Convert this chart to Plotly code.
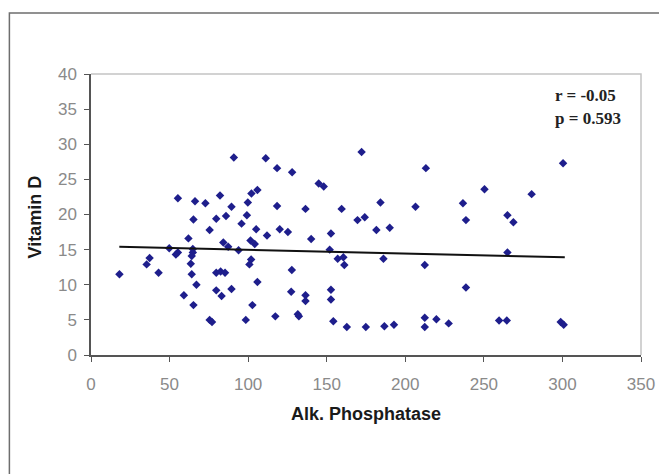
import plotly.graph_objects as go

alk_phosphatase = [
    90.9, 111.2, 118.4, 55.3, 66.2, 72.8, 82.1, 89.4, 99.8, 102.1, 105.9, 118.4,
    65.2, 79.7, 85.9, 99.2, 95.8, 105.1, 112.0, 75.5, 62.0, 101.5, 104.2, 84.2,
    87.3, 93.9, 49.8, 55.3, 54.0, 64.8, 64.8, 64.1, 37.3, 35.4, 63.5, 101.9,
    100.8, 18.1, 43.0, 64.1, 79.7, 82.5, 85.3, 105.9, 67.1, 79.7, 89.4, 59.1,
    83.1, 65.2, 102.7, 75.5, 77.0, 98.5, 117.3, 128.0, 172.2, 213.1, 144.9, 148.1,
    136.5, 159.5, 184.2, 206.5, 236.7, 238.6, 169.6, 174.2, 181.6, 190.1, 120.1, 125.3,
    140.1, 152.7, 151.9, 157.0, 160.6, 161.2, 186.1, 212.4, 127.8, 127.4, 136.5, 136.5,
    152.7, 152.7, 131.6, 132.3, 154.2, 162.8, 174.9, 186.7, 192.8, 212.4, 212.4, 219.8,
    227.6, 238.6, 300.4, 250.4, 280.4, 265.0, 268.8, 265.0, 259.7, 264.6, 298.9, 300.8,
]
vitamin_d = [
    28.1, 28.0, 26.6, 22.3, 21.9, 21.6, 22.7, 21.1, 21.7, 23.0, 23.5, 21.2,
    19.3, 19.4, 19.8, 19.9, 18.7, 17.9, 17.0, 17.8, 16.6, 16.3, 15.8, 16.0,
    15.4, 14.9, 15.2, 14.6, 14.3, 15.1, 14.6, 14.1, 13.8, 12.9, 13.0, 13.6,
    12.9, 11.5, 11.7, 11.5, 11.7, 11.9, 11.7, 10.4, 10.0, 9.2, 9.4, 8.5,
    8.4, 7.1, 7.1, 5.0, 4.7, 5.0, 5.5, 26.0, 28.9, 26.6, 24.4, 24.0,
    20.8, 20.8, 21.7, 21.1, 21.6, 19.2, 19.2, 19.6, 17.8, 18.1, 17.9, 17.5,
    16.5, 17.3, 15.0, 13.7, 13.9, 12.8, 13.7, 12.8, 12.1, 9.0, 8.5, 7.7,
    9.3, 7.9, 5.8, 5.5, 4.8, 4.0, 4.0, 4.1, 4.3, 5.3, 4.0, 5.1,
    4.5, 9.6, 27.3, 23.6, 22.9, 19.9, 18.9, 14.6, 4.9, 4.9, 4.7, 4.3,
]
trend_x = [18, 301.5]
trend_y = [15.4, 13.9]
x_ticks = [0, 50, 100, 150, 200, 250, 300, 350]
y_ticks = [0, 5, 10, 15, 20, 25, 30, 35, 40]
stats_lines = ["r = -0.05", "p = 0.593"]
x_title = "Alk. Phosphatase"
y_title = "Vitamin D"

fig = go.Figure()
fig.add_trace(go.Scatter(
    x=alk_phosphatase, y=vitamin_d, mode="markers",
    marker=dict(symbol="diamond", size=6.5, color="#1e1e8c", line=dict(width=0)),
    showlegend=False, hoverinfo="x+y",
))
fig.add_trace(go.Scatter(
    x=trend_x, y=trend_y, mode="lines",
    line=dict(color="#111111", width=2), showlegend=False,
))

# page body has an 8px margin, so work in reference pixels minus 8
O = 8
W, H = 667 - O, 474 - O
L, T = 91 - O, 74 - O
R = W - (645 - O)
B = H - (355 - O)
pw, ph = W - L - R, H - T - B

def px(x):
    return (x - O - L) / pw

def py(y):
    return (H - B - (y - O)) / ph

# outer frame (cropped on right and bottom)
fig.add_shape(type="path", xref="paper", yref="paper",
              path=f"M {px(8.8)} {py(490)} L {px(8.8)} {py(13)} L {px(690)} {py(13)}",
              line=dict(color="#6e6e6e", width=1.5))
# plot area top/right border
fig.add_shape(type="path", xref="paper", yref="paper",
              path="M 0 1 L 1 1 L 1 0",
              line=dict(color="#c4c4c4", width=1.5))

for txt, yy in zip(stats_lines, [95, 118]):
    fig.add_annotation(xref="paper", yref="paper", x=px(556), y=py(yy),
                       text=f"<b>{txt}</b>", showarrow=False,
                       xanchor="left", yanchor="middle",
                       font=dict(family="Liberation Serif", size=17, color="#222222"))

fig.add_annotation(xref="paper", yref="paper", x=px(368), y=py(414),
                   text=f"<b>{x_title}</b>", showarrow=False,
                   xanchor="center", yanchor="middle",
                   font=dict(family="Liberation Sans", size=18, color="#1a1a1a"))
fig.add_annotation(xref="paper", yref="paper", x=px(35), y=py(217),
                   text=f"<b>{y_title}</b>", showarrow=False, textangle=-90,
                   xanchor="center", yanchor="middle",
                   font=dict(family="Liberation Sans", size=18, color="#1a1a1a"))

axis_common = dict(showgrid=False, zeroline=False, showline=True,
                   linecolor="#555555", linewidth=1.5, ticks="outside",
                   ticklen=5, tickcolor="#555555", tickwidth=1,
                   tickfont=dict(family="Liberation Sans", size=17, color="#8a8a8a"))

fig.update_xaxes(range=[0, 350], tickvals=x_ticks, ticklabelstandoff=8, **axis_common)
fig.update_yaxes(range=[0, 40], tickvals=y_ticks, ticklabelstandoff=4, **axis_common)

fig.update_layout(width=W, height=H, margin=dict(l=L, r=R, t=T, b=B),
                  paper_bgcolor="white", plot_bgcolor="white", showlegend=False)

fig.write_html("out.html")
